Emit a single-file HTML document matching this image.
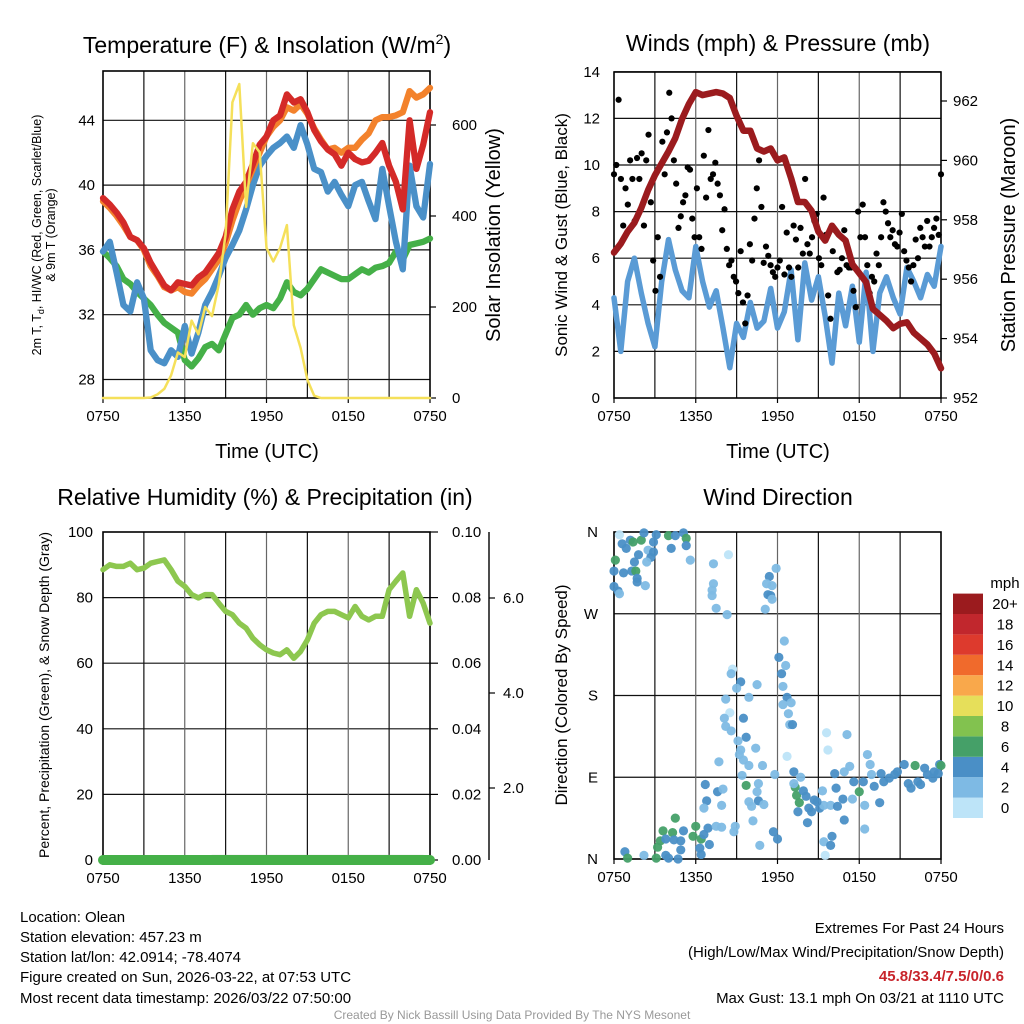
<!DOCTYPE html>
<html><head><meta charset="utf-8">
<style>
body{margin:0;background:#fff;}
svg{display:block;font-family:"Liberation Sans",Arial,sans-serif;}
</style></head>
<body>
<svg id="c" width="1024" height="1024" viewBox="0 0 1024 1024" xmlns="http://www.w3.org/2000/svg">
<rect x="0" y="0" width="1024" height="1024" fill="#fff"/>
<text x="267" y="53" font-size="23" text-anchor="middle">Temperature (F) &amp; Insolation (W/m<tspan dy="-9" font-size="14">2</tspan><tspan dy="9">)</tspan></text>
<text x="778" y="51" font-size="23" text-anchor="middle">Winds (mph) &amp; Pressure (mb)</text>
<text x="265" y="505" font-size="23" text-anchor="middle">Relative Humidity (%) &amp; Precipitation (in)</text>
<text x="778" y="505" font-size="23" text-anchor="middle">Wind Direction</text>
<text x="267" y="458" font-size="20" text-anchor="middle">Time (UTC)</text>
<text x="778" y="458" font-size="20" text-anchor="middle">Time (UTC)</text>
<text transform="translate(41,235) rotate(-90)" font-size="12.5" text-anchor="middle">2m T, T<tspan dy="3" font-size="9">d</tspan><tspan dy="-3">, HI/WC (Red, Green, Scarlet/Blue)</tspan></text>
<text transform="translate(55,235) rotate(-90)" font-size="12.5" text-anchor="middle">&amp; 9m T (Orange)</text>
<text transform="translate(500,235) rotate(-90)" font-size="20" text-anchor="middle">Solar Insolation (Yellow)</text>
<text transform="translate(567,235) rotate(-90)" font-size="17" text-anchor="middle">Sonic Wind &amp; Gust (Blue, Black)</text>
<text transform="translate(1015,235) rotate(-90)" font-size="20" text-anchor="middle">Station Pressure (Maroon)</text>
<text transform="translate(49,695) rotate(-90)" font-size="14" text-anchor="middle">Percent, Precipitation (Green), &amp; Snow Depth (Gray)</text>
<text transform="translate(567,695) rotate(-90)" font-size="17" text-anchor="middle">Direction (Colored By Speed)</text>
<text x="1005" y="588" font-size="15" text-anchor="middle">mph</text>
<g font-size="15">
<text x="20" y="922">Location: Olean</text>
<text x="20" y="942">Station elevation: 457.23 m</text>
<text x="20" y="962">Station lat/lon: 42.0914; -78.4074</text>
<text x="20" y="982">Figure created on Sun, 2026-03-22, at 07:53 UTC</text>
<text x="20" y="1003">Most recent data timestamp: 2026/03/22 07:50:00</text>
</g>
<g font-size="15" text-anchor="end">
<text x="1004" y="933">Extremes For Past 24 Hours</text>
<text x="1004" y="957">(High/Low/Max Wind/Precipitation/Snow Depth)</text>
<text x="1004" y="981" fill="#c8242b" font-weight="bold">45.8/33.4/7.5/0/0.6</text>
<text x="1004" y="1003">Max Gust: 13.1 mph On 03/21 at 1110 UTC</text>
</g>
<text x="512" y="1019" font-size="12" fill="#999" text-anchor="middle">Created By Nick Bassill Using Data Provided By The NYS Mesonet</text>
</svg>
<script>
// ---------- data (30-min steps from 0750 UTC) ----------
const timeLabels = ["0750","1350","1950","0150","0750"];
const tempTicks = [28,32,36,40,44];
const solarTicks = [0,200,400,600];
const windTicks = [0,2,4,6,8,10,12,14];
const pressTicks = [952,954,956,958,960,962];
const rhTicks = [0,20,40,60,80,100];
const precipTicks = ["0.00","0.02","0.04","0.06","0.08","0.10"];
const snowTicks = ["2.0","4.0","6.0"];
const dirLabels = ["N","E","S","W","N"];
const cbLabels = ["0","2","4","6","8","10","12","14","16","18","20+"];
const cbColors = ["#bde4f8","#7ebae4","#4a8fc6","#45a068","#82c24f","#e6df5a","#f9a84b","#f06a2c","#dd3a2d","#c1272d","#9b1b1e"];

const tempRed = [39.2,38.8,38.3,37.7,36.8,36.6,36.1,35.2,34.5,33.8,33.5,34.0,33.9,33.8,34.3,34.6,35.2,35.8,36.8,38.5,39.6,40.2,41.3,42.5,43.0,44.0,44.3,45.6,45.1,45.3,44.5,43.4,42.7,42.2,41.9,41.2,42.0,41.6,41.4,41.5,42.0,42.6,41.2,40.2,38.5,44.0,41.0,42.5,44.5];
const temp9m = [39.0,38.6,38.1,37.5,36.8,36.6,36.0,35.0,34.4,33.7,33.5,33.7,33.4,33.3,33.8,34.2,34.8,35.4,36.4,37.8,39.0,40.0,41.0,42.0,43.0,43.6,44.0,44.8,44.6,45.0,44.4,43.5,42.8,42.2,42.3,42.0,42.3,42.3,42.8,43.2,44.0,44.2,44.2,44.3,44.5,45.8,45.4,45.6,46.0];
const windChill = [35.9,36.5,34.6,32.6,32.2,34.0,33.0,29.8,29.2,29.0,29.8,29.4,31.3,29.6,30.9,32.6,33.4,34.4,35.5,36.3,37.2,38.5,40.0,41.2,41.8,42.3,42.6,43.0,42.3,43.7,42.5,41.0,40.8,39.6,40.2,39.4,38.7,40.0,40.2,39.0,37.9,41.0,38.7,36.5,34.8,41.2,38.7,38.0,41.3];
const dewPoint = [35.9,35.5,35.0,34.2,33.9,33.4,33.0,32.6,32.0,31.5,31.2,30.9,29.2,28.8,29.3,30.0,30.2,29.8,30.8,31.8,32.0,32.6,32.0,32.4,32.6,32.4,33.0,34.0,33.4,33.2,33.6,34.2,34.8,34.6,34.4,34.2,34.2,34.5,34.8,34.6,34.9,35.0,35.2,35.9,35.4,36.3,36.4,36.5,36.7];
const solar = [0,0,0,0,0,0,0,1,8,20,50,100,90,170,140,200,180,250,360,650,690,420,560,540,330,300,330,380,160,110,40,5,0,0,0,0,0,0,0,0,0,0,0,0,0,0,0,0,0];

const windSpeed = [4.3,2.0,5.0,6.0,4.5,3.2,2.2,5.0,6.8,5.5,4.6,4.3,6.5,5.0,3.9,4.6,3.0,1.3,3.2,2.6,4.1,3.0,3.3,4.7,3.0,3.7,5.5,2.5,5.8,4.2,5.2,3.5,1.5,4.5,3.1,4.8,2.4,5.4,2.0,4.5,5.2,4.3,3.6,5.6,5.0,4.3,5.3,4.8,6.5];
const gusts = [9.6,10.0,12.8,9.4,7.4,9.0,8.3,10.2,9.4,7.6,10.3,9.4,10.5,7.4,10.2,11.3,8.4,5.9,4.6,6.9,5.2,11.0,9.6,11.4,13.1,12.0,10.2,9.2,7.3,7.8,8.4,8.7,9.9,9.8,7.7,6.9,9.0,6.9,6.4,10.4,8.6,11.5,9.4,9.6,10.1,9.2,8.7,7.2,8.1,6.4,5.7,5.9,5.2,5.0,4.5,6.3,4.1,3.2,4.4,6.6,5.9,7.7,9.0,10.2,8.2,5.8,6.5,6.1,5.7,5.4,5.2,5.6,5.9,8.2,5.3,7.1,5.6,5.2,7.4,6.8,5.6,7.3,6.2,9.4,6.6,6.2,6.9,7.6,7.9,6.0,5.7,8.6,7.0,4.4,3.4,6.3,7.2,5.4,5.5,6.0,7.2,5.7,5.6,5.6,4.6,3.9,8.0,6.9,8.3,6.9,5.7,4.5,5.2,5.0,6.2,5.7,6.9,8.4,8.0,7.5,6.9,7.2,6.6,6.5,7.1,7.9,6.3,5.9,5.6,5.0,5.7,6.8,6.0,7.3,6.9,6.5,7.6,6.5,6.9,7.3,7.7,7.0,9.6];
const pressure = [956.9,957.2,957.6,957.9,958.4,959.0,959.5,959.9,960.3,960.75,961.4,961.9,962.3,962.2,962.25,962.3,962.25,962.1,961.5,961.0,961.0,960.4,960.3,960.4,960.0,960.1,959.4,958.6,958.6,958.3,957.6,957.3,957.8,957.5,957.3,956.5,956.2,955.9,955.0,954.8,954.6,954.35,954.5,954.55,954.2,954.0,953.8,953.5,953.0];

const rh = [88.5,90,89.5,89.5,90.5,88.5,89,90.5,91,91.5,88.5,85,83.4,80.9,79.9,80.9,80.9,78.3,75.8,74.8,72.2,70.7,67.6,65.6,64.1,63.1,62.6,64.1,61.5,63.6,67.1,72.2,74.8,75.8,75.8,74.8,73.8,77.3,74.3,73.2,74.3,74.3,82.4,85,87.5,74.3,82.4,78.3,72.2];
const precip = [0,0,0,0,0,0,0,0,0,0,0,0,0,0,0,0,0,0,0,0,0,0,0,0,0,0,0,0,0,0,0,0,0,0,0,0,0,0,0,0,0,0,0,0,0,0,0,0,0];
const snowDepth = [null,null,null,null,null,null,null,null,null,null,null,null,null,null,null,null,0.5,0.5,0.6,0.6,null,null,null,null,null,null,null,null,null,null,null,null,null,null,null,null,null,null,null,null,null,null,null,null,null,null,0.5,0.5,null];

const dirTime = [0.4,0.6,0.9,1.2,1.4,2.0,2.2,2.5,2.7,2.9,3.1,2.9,0.1,0.0,0.7,1.3,1.6,1.5,1.8,1.7,2.3,0.0,0.3,0.4,4.0,4.5,4.2,5.1,5.3,5.3,5.6,2.4,1.7,
7.3,8.4,7.3,7.2,7.2,7.5,8.3,11.9,11.4,11.2,11.6,11.3,11.5,11.6,11.1,
12.5,12.1,12.6,12.3,8.7,8.6,9.3,10.5,9.0,12.4,12.7,9.9,8.2,12.4,13.0,12.8,8.5,9.5,8.1,12.9,13.1,8.2,8.6,9.7,9.1,10.4,9.3,9.2,9.5,7.7,9.9,10.9,9.4,11.8,12.7,15.6,15.7,17.1,18.6,18.8,
6.7,7.6,8.0,9.7,10.6,10.5,9.9,10.6,10.1,11.0,6.8,6.6,7.9,10.2,13.2,13.7,13.3,13.4,13.6,13.2,13.9,14.1,14.3,14.5,14.7,15.3,15.1,15.4,13.5,14.2,14.9,15.9,16.3,16.8,16.4,16.9,17.5,18.0,18.4,19.1,19.5,18.4,16.2,16.9,17.3,17.6,18.3,18.9,19.6,20.2,20.8,21.3,21.6,22.3,22.8,23.5,23.9,24.0,22.1,23.0,19.8,20.6,22.5,21.8,23.4,23.8,
3.4,3.6,4.5,4.3,5.1,4.9,4.4,3.8,3.2,4.9,4.7,3.8,4.0,3.1,6.0,5.8,6.4,6.6,6.9,7.0,6.3,6.4,7.5,7.9,8.9,8.8,2.2,0.8,1.0,10.7,11.7,12.0,15.4,15.5,15.9,16.0];
const dirDeg = [357,347,342,351,349,351,359,340,332,338,357,349,329,317,315,317,317,327,335,305,301,300,295,292,356,356,342,359,353,345,329,327,309,
325,335,303,296,290,276,269,320,311,303,301,291,290,286,275,
240,222,213,204,209,204,195,192,188,190,178,178,176,170,172,160,161,155,155,148,148,146,141,134,130,122,120,115,109,107,103,103,92,93,113,139,120,137,115,104,
82,74,77,81,83,74,63,64,58,60,64,56,59,42,96,90,79,70,62,83,75,69,56,52,65,75,56,59,52,40,63,59,78,66,58,43,66,74,59,80,62,33,94,96,102,85,85,93,94,89,96,104,83,85,100,96,104,103,103,93,85,93,82,78,89,94,
20,31,45,29,31,20,21,22,13,10,0,4,1,1,36,25,22,27,34,16,12,5,36,35,36,30,4,8,1,15,30,22,19,4,15,25];
const dirSpeed = [1.2,5,5,5,6.8,6.8,5,3,5,5,5,5,6.8,5,5,5,6.8,5,5,5,3,5,5,3,6.8,5,5,5,6.8,5,3,3,5,
3,1.2,3,3,3,3,3,3,5,3,3,5,5,3,3,
3,5,3,5,1.2,3,5,3,3,3,5,3,3,3,3,3,1.2,5,3,3,5,3,3,5,3,3,3,3,3,3,3,3,3,3,1.2,1.2,1.2,3,3,3,
5,5,3,6.8,3,3,3,5,3,3,5,3,3,3,5,3,6.8,6.8,6.8,3,5,5,5,5,5,3,5,3,5,5,5,3,5,5,5,5,3,6.8,3,5,5,3,5,3,3,5,5,3,5,5,5,5,5,5,5,5,5,6.8,6.8,5,5,5,5,5,5,5,
6.8,6.8,6.8,6.8,5,5,5,5,6.8,5,5,5,5,6.8,6.8,6.8,6.8,5,5,5,5,5,3,3,3,3,3,5,6.8,3,5,5,3,1.2,5,5];

// ---------- helpers ----------
const svg = document.getElementById('c');
const NS = 'http://www.w3.org/2000/svg';
function mk(tag, attrs, parent){
  const el = document.createElementNS(NS, tag);
  for (const k in attrs) el.setAttribute(k, attrs[k]);
  (parent || svg).appendChild(el);
  return el;
}
function label(x, y, txt, anchor, size, name){
  const t = mk('text', {x:x, y:y, 'text-anchor':anchor, 'font-size':size||15});
  t.textContent = txt;
  
  
  return t;
}
function line(x1,y1,x2,y2,stroke,w,name){
  const l = mk('line',{x1:x1,y1:y1,x2:x2,y2:y2,stroke:stroke,'stroke-width':w});
  
  
  return l;
}
function series(vals, xf, yf, color, w, name){
  const pts = [];
  vals.forEach((v,i)=>{ if(v!==null) pts.push(xf(i*0.5).toFixed(1)+','+yf(v).toFixed(1)); });
  const p = mk('polyline',{points:pts.join(' '),fill:'none',stroke:color,'stroke-width':w,'stroke-linejoin':'round','stroke-linecap':'round'});
  
  
  return p;
}
function frame(p, name){
  for (let h=3; h<24; h+=3){
    const x = p.xs(h);
    line(x,p.y0,x,p.y1,(h%6===0)?'#666':'#111',1.2, name+'-vgrid');
  }
  const r = mk('rect',{x:p.x0,y:p.y0,width:p.x1-p.x0,height:p.y1-p.y0,fill:'none',stroke:'#000','stroke-width':1.6});
  
  
  timeLabels.forEach((t,i)=>{
    const x = p.xs(i*6);
    line(x,p.y1,x,p.y1+5,'#000',1.2, name+'-x-tick');
    label(x, p.y1+23, t, 'middle', 15, name+'-x-tick-label');
  });
}

// ---------- Panel 1: temperature ----------
const P1 = {x0:103,x1:430,y0:71,y1:398};
P1.xs = h => P1.x0 + h/24*(P1.x1-P1.x0);
const ty = v => 379.5 - (v-28)*16.2;
const sy = v => 398 - v*0.455;
tempTicks.forEach(v=>{
  line(P1.x0,ty(v),P1.x1,ty(v),'#111',1.2,'temp-hgrid');
  label(P1.x0-8, ty(v)+5, String(v), 'end', 15, 'temp-tick-label');
});
solarTicks.forEach(v=>{
  line(P1.x1,sy(v),P1.x1+6,sy(v),'#000',1.2,'solar-tick');
  label(P1.x1+22, sy(v)+5, String(v), 'start', 15, 'solar-tick-label');
});
frame(P1,'temp-panel');
series(dewPoint, P1.xs, ty, '#45b048', 6.3, 'dewpoint-line');
series(windChill, P1.xs, ty, '#4a90c8', 6.3, 'windchill-line');
series(temp9m, P1.xs, ty, '#f3822c', 6.3, 'temp-9m-line');
series(tempRed, P1.xs, ty, '#d42a28', 6.3, 'temp-2m-line');
series(solar, P1.xs, sy, '#f5e05a', 2.5, 'solar-line');

// ---------- Panel 2: winds ----------
const P2 = {x0:614,x1:941,y0:72,y1:398};
P2.xs = h => P2.x0 + h/24*(P2.x1-P2.x0);
const wy = v => 398 - v*23.3;
const py = v => 398 - (v-952)*29.7;
windTicks.forEach(v=>{
  if (v>0) line(P2.x0,wy(v),P2.x1,wy(v),'#111',1.2,'wind-hgrid');
  label(P2.x0-14, wy(v)+5, String(v), 'end', 15, 'wind-tick-label');
});
pressTicks.forEach(v=>{
  line(P2.x1,py(v),P2.x1+6,py(v),'#000',1.2,'pressure-tick');
  label(P2.x1+12, py(v)+5, String(v), 'start', 15, 'pressure-tick-label');
});
frame(P2,'wind-panel');
series(windSpeed, P2.xs, wy, '#5a9bd5', 5.5, 'wind-speed-line');
gusts.forEach((g,i)=>{
  const c = mk('circle',{cx:P2.xs(i/(gusts.length-1)*24),cy:wy(g),r:3.1,fill:'#000'});
  
  
});
series(pressure, P2.xs, py, '#9b1b1e', 6.5, 'pressure-line');

// ---------- Panel 3: RH ----------
const P3 = {x0:103,x1:430,y0:532,y1:860};
P3.xs = h => P3.x0 + h/24*(P3.x1-P3.x0);
const ry = v => 860 - v*3.28;
const qy = v => 860 - v*3280;
const dy = v => 883 - v*47.5;
rhTicks.forEach(v=>{
  if (v>0 && v<100) line(P3.x0,ry(v),P3.x1,ry(v),'#111',1.2,'rh-hgrid');
  label(P3.x0-10, ry(v)+5, String(v), 'end', 15, 'rh-tick-label');
});
precipTicks.forEach((t,i)=>{
  line(P3.x1,ry(i*20),P3.x1+8,ry(i*20),'#000',1.2,'precip-tick');
  label(P3.x1+22, ry(i*20)+5, t, 'start', 15, 'precip-tick-label');
});
line(489,532,489,860,'#000',1.4,'snow-axis-line');
snowTicks.forEach((t,i)=>{
  const v = (i+1)*2;
  line(489,dy(v),495,dy(v),'#000',1.2,'snow-tick');
  label(503, dy(v)+5, t, 'start', 15, 'snow-tick-label');
});
frame(P3,'rh-panel');
series(snowDepth.map(v=>v===null?null:0.03+v*0.01), P3.xs, ry, '#bbbbbb', 10, 'snow-depth-line');
series(rh, P3.xs, ry, '#8dc74f', 5.5, 'rh-line');
series(precip, P3.xs, qy, '#45b048', 10, 'precip-line');

// ---------- Panel 4: wind direction ----------
const P4 = {x0:614,x1:941,y0:532,y1:859};
P4.xs = h => P4.x0 + h/24*(P4.x1-P4.x0);
const ddy = d => 859 - d/360*(859-532);
dirLabels.forEach((t,i)=>{
  const y = ddy(i*90);
  if (i>0 && i<4) line(P4.x0,y,P4.x1,y,'#111',1.2,'direction-hgrid');
  label(P4.x0-16, y+5, t, 'end', 15, 'direction-tick-label');
});
frame(P4,'direction-panel');
dirTime.forEach((h,i)=>{
  const bin = Math.min(10, Math.floor(dirSpeed[i]/2));
  const c = mk('circle',{cx:P4.xs(h),cy:ddy(dirDeg[i]),r:4.6,fill:cbColors[bin],'fill-opacity':0.95});
  
  
});
cbColors.forEach((col,i)=>{
  const y = 818 - (i+1)*20.4;
  const r = mk('rect',{x:953,y:y,width:30,height:20.4,fill:col});
  
  
  label(1005, y+15.5, cbLabels[i], 'middle', 15, 'colorbar-label');
});
</script>
</body></html>
